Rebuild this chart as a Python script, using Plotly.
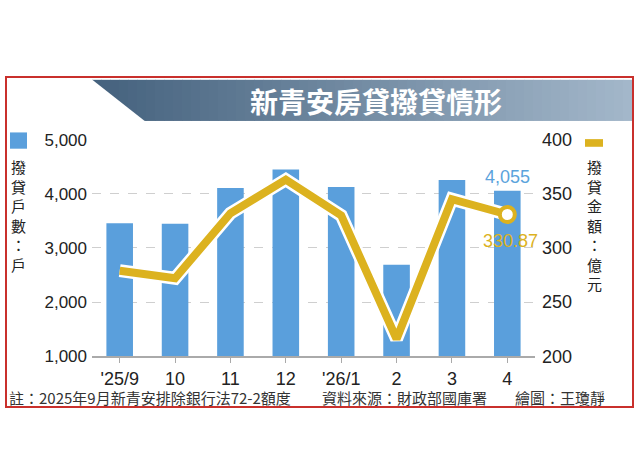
import plotly.graph_objects as go

# ---- data ----
months = ["'25/9", "10", "11", "12", "'26/1", "2", "3", "4"]
households = [3455, 3445, 4105, 4450, 4125, 2690, 4255, 4055]
amount = [279, 272, 332, 363, 330, 216, 345, 330.87]
left_ticks = [1000, 2000, 3000, 4000, 5000]
left_ticklabels = ["1,000", "2,000", "3,000", "4,000", "5,000"]
right_ticks = [200, 250, 300, 350, 400]

title_text = "新青安房貸撥貸情形"
left_label = "撥貸戶數：戶"
right_label = "撥貸金額：億元"
note_text = "註：2025年9月新青安排除銀行法72-2額度"
source_text = "資料來源：財政部國庫署"
credit_text = "繪圖：王瓊靜"

W, H = 640, 460
BLUE = "#5a9fdc"
GOLD = "#dcb21f"
FONT = "Liberation Sans, Arial, Noto Sans CJK TC"
CJK = "Noto Sans CJK TC, Noto Sans CJK SC"

def px(x):
    return x / W

def py(y):
    return 1 - y / H

last = len(months) - 1

fig = go.Figure()
fig.add_trace(go.Bar(x=months, y=households, marker_color=BLUE, width=0.48,
                     marker_line_width=0, yaxis="y", showlegend=False))
fig.add_trace(go.Scatter(x=months, y=amount, mode="lines", yaxis="y2",
                         line=dict(color="white", width=13), showlegend=False))
fig.add_trace(go.Scatter(x=months, y=amount, mode="lines", yaxis="y2",
                         line=dict(color=GOLD, width=8), showlegend=False))
fig.add_trace(go.Scatter(x=[months[last]], y=[amount[last]], mode="markers", yaxis="y2",
                         marker=dict(color="white", size=15, line=dict(color=GOLD, width=4)),
                         showlegend=False))

shapes = []
# title band gradient (strips)
x_start, x_end = 92, 632
y_top, y_bot = 73, 116
n = 60
c0 = (0x45, 0x62, 0x7e)
c1 = (0xa3, 0xb7, 0xca)
for i in range(n):
    t = i / (n - 1)
    r = int(c0[0] + (c1[0] - c0[0]) * t)
    g = int(c0[1] + (c1[1] - c0[1]) * t)
    b = int(c0[2] + (c1[2] - c0[2]) * t)
    xa = x_start + (x_end - x_start) * i / n
    xb = x_start + (x_end - x_start) * (i + 1) / n + 0.6
    shapes.append(dict(type="rect", xref="paper", yref="paper",
                       x0=px(xa), x1=px(min(xb, x_end)), y0=py(y_bot), y1=py(y_top),
                       fillcolor=f"rgb({r},{g},{b})", line_width=0, layer="above"))
# cut the diagonal
shapes.append(dict(type="path", xref="paper", yref="paper",
                   path=f"M {px(x_start-1)} {py(y_top-1)} L {px(146)} {py(y_bot+1)} L {px(x_start-1)} {py(y_bot+1)} Z",
                   fillcolor="white", line_width=0, layer="above"))
# red frame
shapes.append(dict(type="rect", xref="paper", yref="paper",
                   x0=px(6), x1=px(633), y0=py(415), y1=py(70),
                   line=dict(color="#c9302c", width=2), fillcolor="rgba(0,0,0,0)", layer="above"))
# legend swatches
shapes.append(dict(type="rect", xref="paper", yref="paper",
                   x0=px(10), x1=px(27), y0=py(145), y1=py(128),
                   fillcolor=BLUE, line_width=0))
shapes.append(dict(type="rect", xref="paper", yref="paper",
                   x0=px(585), x1=px(603), y0=py(143), y1=py(135),
                   fillcolor=GOLD, line_width=0))

ann = []
ann.append(dict(text=f"<b>{title_text}</b>", x=px(376), y=py(95), xref="paper", yref="paper",
                showarrow=False, font=dict(family=CJK, size=28, color="white"),
                xanchor="center", yanchor="middle"))
ann.append(dict(text="<br>".join(left_label), x=px(18), y=py(151), xref="paper", yref="paper",
                showarrow=False, font=dict(family=CJK, size=15, color="#222"),
                xanchor="center", yanchor="top", align="center"))
ann.append(dict(text="<br>".join(right_label), x=px(594), y=py(151), xref="paper", yref="paper",
                showarrow=False, font=dict(family=CJK, size=15, color="#222"),
                xanchor="center", yanchor="top", align="center"))
ann.append(dict(text=f"{households[last]:,}", x=last, y=households[last], xref="x", yref="y",
                showarrow=False, font=dict(family=FONT, size=18, color="#5ba3dc"),
                xanchor="center", yanchor="bottom", yshift=2))
ann.append(dict(text=f"{amount[last]:.2f}", x=last, y=amount[last], xref="x", yref="y2",
                showarrow=False, font=dict(family=FONT, size=18, color=GOLD),
                xanchor="center", yanchor="middle", yshift=-27, xshift=3))
for txt, x in [(note_text, 7), (source_text, 320), (credit_text, 513)]:
    ann.append(dict(text=txt, x=px(x), y=py(405), xref="paper", yref="paper",
                    showarrow=False, font=dict(family=CJK, size=15, color="#333"),
                    xanchor="left", yanchor="middle"))

fig.update_layout(
    width=W, height=H, margin=dict(l=0, r=0, t=0, b=0),
    paper_bgcolor="white", plot_bgcolor="white",
    shapes=shapes, annotations=ann, bargap=0.5,
    xaxis=dict(domain=[px(92), px(535)], range=[-0.5, 7.5], showline=True,
               linecolor="#aaaaaa", linewidth=1.5, ticks="outside", ticklen=5,
               tickcolor="#aaaaaa", tickfont=dict(family=FONT, size=18, color="#222"),
               showgrid=False, fixedrange=True),
    yaxis=dict(domain=[py(362), py(135.5)], range=[1000, 5000], tickvals=left_ticks,
               ticktext=left_ticklabels, tickfont=dict(family=FONT, size=17, color="#222"),
               showgrid=True, gridcolor="#cfcfcf", griddash="dash", gridwidth=1,
               zeroline=False, showline=False, ticks="", ticklabelstandoff=4),
    yaxis2=dict(overlaying="y", side="right", range=[200, 400], tickvals=right_ticks,
                tickfont=dict(family=FONT, size=18, color="#222"), showgrid=False,
                zeroline=False, showline=False, ticks="", ticklabelstandoff=6),
)

fig.write_html("out.html")
